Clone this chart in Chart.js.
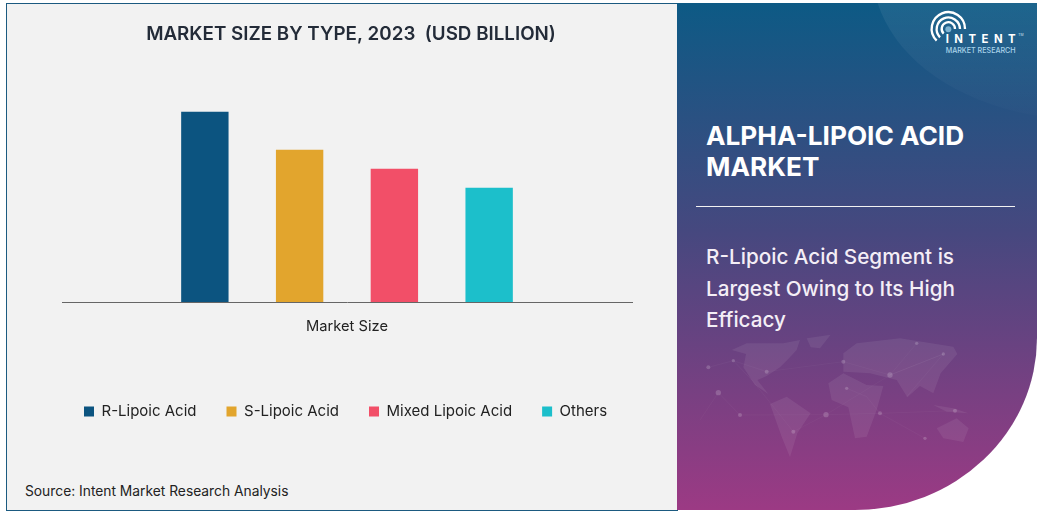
<!DOCTYPE html>
<html>
<head>
<meta charset="utf-8">
<title>Alpha-Lipoic Acid Market</title>
<script src="https://cdn.jsdelivr.net/npm/chart.js@4"></script>
<style>
    html, body { margin: 0; padding: 0; background: #fff; width: 1043px; height: 513px; overflow: hidden; }
    body { position: relative; font-family: Inter, sans-serif; }
    #left-panel { position: absolute; left: 6px; top: 3px; width: 671px; height: 506px; background: #f2f2f2; border: 1px solid #1b5a80; border-right: none; box-sizing: content-box; }
    #chart-box { position: absolute; left: 7px; top: 4px; width: 688px; height: 425px; }
    #source { position: absolute; left: 25px; top: 483px; font-size: 13.8px; line-height: 16px; color: #222; white-space: nowrap; }
    #right-panel { position: absolute; left: 677px; top: 3px; width: 360px; height: 507px; overflow: hidden; border-bottom-right-radius: 182px 172px; background: linear-gradient(180deg, #0d5a85 0%, #46487f 45%, #9c3a84 100%); }
    .deco { position: absolute; }
    #side-title { position: absolute; left: 29px; top: 117px; font-size: 26.2px; line-height: 31px; font-weight: 700; color: #fff; white-space: nowrap; }
    #divider { position: absolute; left: 19px; top: 203px; width: 319px; height: 1px; background: #f2f2f2; }
    #side-text { position: absolute; left: 29px; top: 238px; font-size: 20.7px; line-height: 31.5px; font-weight: 500; color: #f4eef6; white-space: nowrap; }
</style>
</head>
<body>
<div id="left-panel"></div>
<div id="right-panel">
    <svg class="deco" style="left:-7px;top:-3px;width:373px;height:220px" viewBox="0 0 1119 660">
        <defs>
            <linearGradient id="arcFade" x1="0" y1="0" x2="0" y2="1">
                <stop offset="0" stop-color="#fff" stop-opacity="0.07"/>
                <stop offset="1" stop-color="#fff" stop-opacity="0.01"/>
            </linearGradient>
        </defs>
        <path d="M620 0 C670 170 850 310 1119 350 L1119 0 Z" fill="url(#arcFade)"/>
    </svg>
    <!-- logo -->
    <svg class="deco" style="left:248px;top:2px;width:105px;height:55px" viewBox="0 0 315 165">
        <g fill="none" stroke="#fff" stroke-width="7">
            <path d="M35 107 A50 50 0 1 1 120 72"/>
            <path d="M45 97 A35 35 0 1 1 105 72"/>
            <path d="M56 86 A20 20 0 1 1 90 72"/>
        </g>
        <circle cx="70" cy="73" r="9" fill="#7fb3d1"/>
        <text x="62" y="113" font-family="Inter, sans-serif" font-size="34" font-weight="700" fill="#fff" textLength="210">INTENT</text>
        <text x="280" y="92" font-family="Inter, sans-serif" font-size="10" fill="#cfe3ef">TM</text>
        <text x="62" y="144" font-family="Inter, sans-serif" font-size="22" font-weight="500" fill="#a9d3ea" textLength="210" lengthAdjust="spacingAndGlyphs">MARKET RESEARCH</text>
    </svg>
    <!-- world map backdrop -->
    <svg class="deco" style="left:23px;top:327px;width:300px;height:150px" viewBox="0 0 900 450">
        <g fill="#fff" fill-opacity="0.07">
            <path d="M95 60 L140 40 L250 40 L300 30 L290 60 L262 90 L240 112 L200 138 L172 150 L205 192 L165 165 L130 112 L138 72 Z"/>
            <path d="M320 25 L392 14 L360 55 L332 52 Z"/>
            <path d="M210 222 L260 200 L332 250 L292 310 L270 382 L245 320 Z"/>
            <path d="M385 160 L430 130 L500 165 L550 168 L530 240 L500 320 L465 325 L445 232 L395 210 Z"/>
            <path d="M430 70 L470 40 L600 25 L760 50 L772 72 L722 130 L700 190 L660 168 L622 202 L590 150 L510 130 L430 125 Z"/>
            <path d="M700 225 L760 235 L805 250 L740 245 Z"/>
            <path d="M710 295 L770 265 L806 295 L790 336 L730 325 Z"/>
        </g>
        <g stroke="#fff" stroke-opacity="0.1" fill="none">
            <path d="M25 112 L100 92 L200 125 L430 95 L570 135 L730 72"/>
            <path d="M0 270 L55 188 L120 255 L378 254 L540 250 L765 242"/>
            <path d="M100 92 L160 155 L280 305 L378 254 L570 135 L650 40"/>
            <path d="M440 175 L500 200 L540 250 L675 325"/>
            <path d="M570 135 L730 72 L620 200"/>
        </g>
        <g fill="#fff" fill-opacity="0.18">
            <circle cx="25" cy="112" r="6"/><circle cx="100" cy="92" r="5"/><circle cx="55" cy="188" r="8"/>
            <circle cx="120" cy="255" r="6"/><circle cx="378" cy="254" r="8"/><circle cx="200" cy="125" r="6"/>
            <circle cx="280" cy="305" r="6"/><circle cx="440" cy="175" r="5"/><circle cx="570" cy="135" r="8"/>
            <circle cx="430" cy="95" r="6"/><circle cx="650" cy="40" r="5"/><circle cx="730" cy="72" r="5"/>
            <circle cx="765" cy="242" r="6"/><circle cx="540" cy="250" r="6"/><circle cx="675" cy="325" r="5"/>
        </g>
    </svg>
    <div id="side-title">ALPHA-LIPOIC ACID<br>MARKET</div>
    <div id="divider"></div>
    <div id="side-text">R-Lipoic Acid Segment is<br>Largest Owing to Its High<br>Efficacy</div>
</div>
<div id="chart-box"><canvas id="type-chart"></canvas></div>
<div id="source">Source: Intent Market Research Analysis</div>

<script>
const categories = ['Market Size'];
const seriesNames = ['R-Lipoic Acid', 'S-Lipoic Acid', 'Mixed Lipoic Acid', 'Others'];
const seriesValues = [5, 4, 3.5, 3];
const seriesColors = ['#0c5480', '#e2a52d', '#f24f68', '#1cbfcb'];
const chartTitle = 'MARKET SIZE BY TYPE, 2023  (USD BILLION)';

const ctx = document.getElementById('type-chart').getContext('2d');

// hidden side axes only reserve room, so title and legend can sit off the plot centre
const spacerAxis = (position, width) => ({
    position,
    display: true,
    min: 0,
    max: 6,
    grid: { display: false },
    border: { display: false },
    ticks: { display: false },
    afterFit: (axis) => { axis.width = width; }
});

new Chart(ctx, {
    type: 'bar',
    data: {
        labels: categories,
        datasets: seriesNames.map((name, i) => ({
            label: name,
            data: [seriesValues[i]],
            backgroundColor: seriesColors[i],
            barPercentage: 0.5,
            categoryPercentage: 0.665
        }))
    },
    options: {
        responsive: true,
        maintainAspectRatio: false,
        animation: false,
        layout: {
            padding: { left: 47, right: 47, top: 19 }
        },
        plugins: {
            title: {
                display: true,
                text: chartTitle,
                color: '#232b38',
                font: { family: 'Inter', size: 18.8, weight: '600' },
                padding: { top: 0, bottom: 28 }
            },
            legend: {
                position: 'bottom',
                align: 'start',
                labels: {
                    boxWidth: 10,
                    boxHeight: 10,
                    padding: 30,
                    color: '#222',
                    font: { family: 'Inter', size: 15 }
                }
            },
            tooltip: { enabled: false }
        },
        scales: {
            x: {
                grid: { display: false },
                border: { display: true, color: '#666', width: 1 },
                ticks: {
                    color: '#222',
                    padding: 8,
                    font: { family: 'Inter', size: 14.7 }
                },
                // keeps the gap between the axis and the legend
                afterFit: (axis) => { axis.height = 72; }
            },
            y: spacerAxis('left', 8),
            yRight: spacerAxis('right', 16)
        }
    }
});
</script>
</body>
</html>
